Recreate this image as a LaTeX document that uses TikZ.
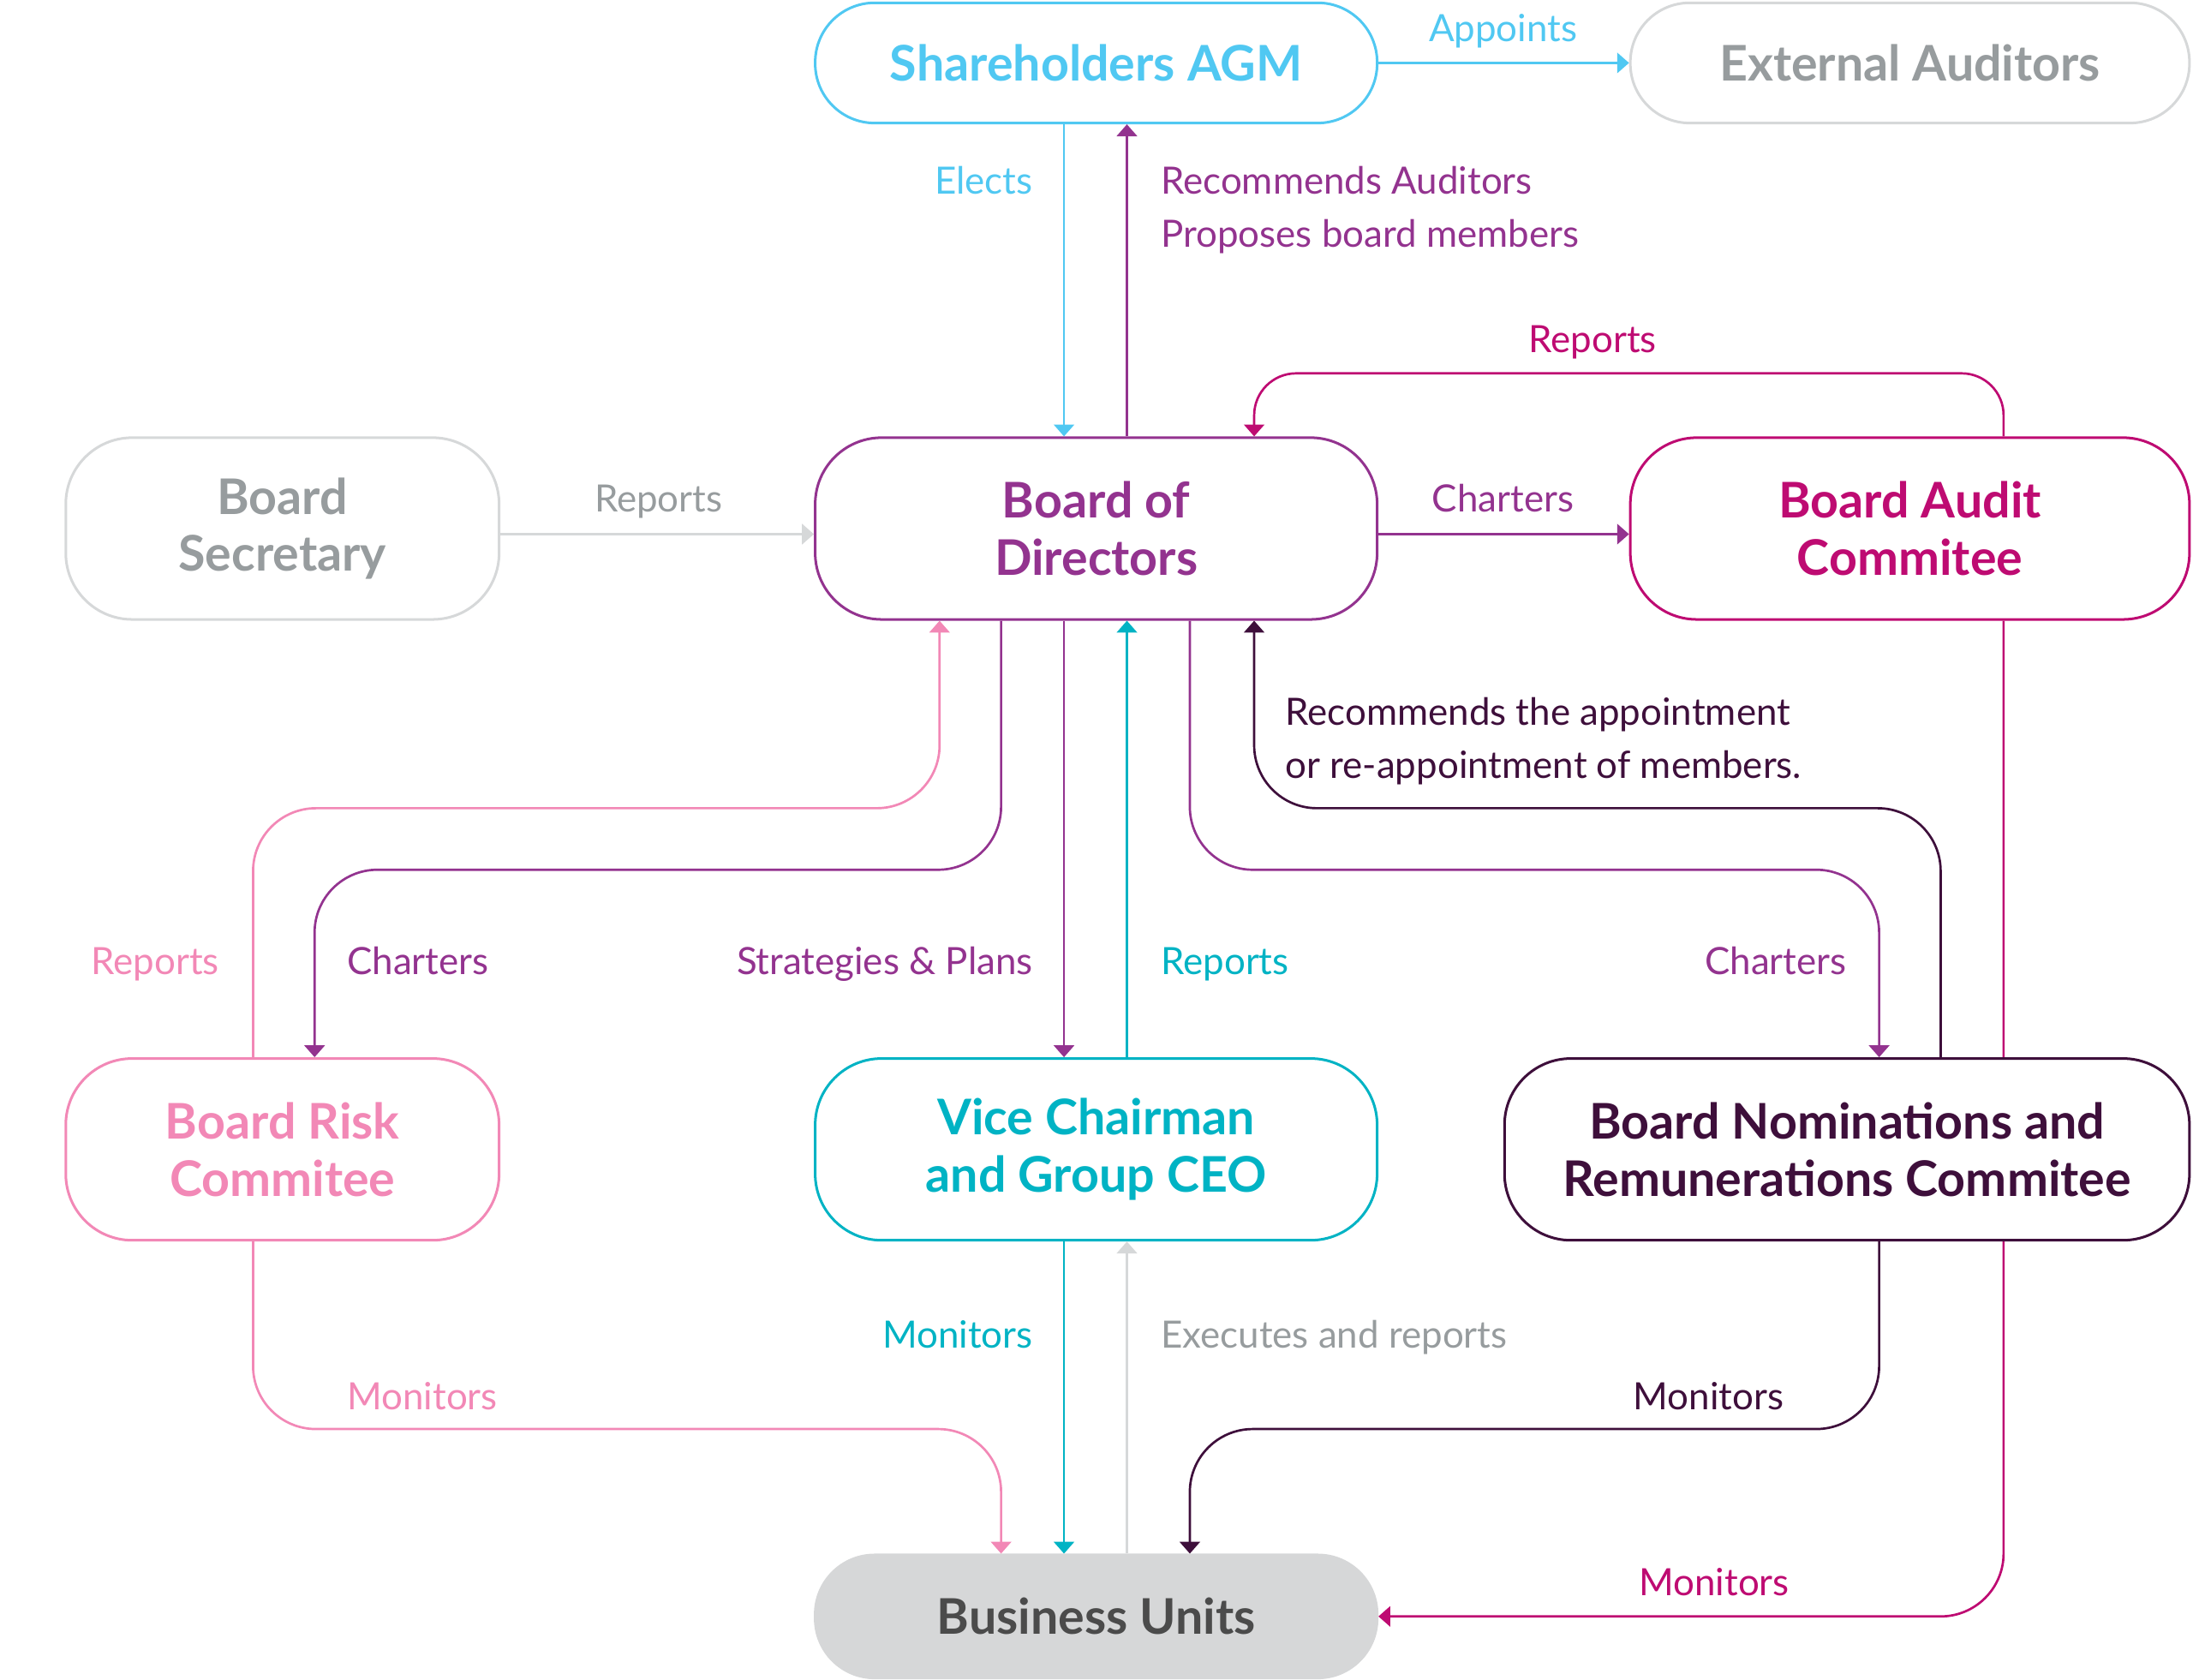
\documentclass[tikz,border=0pt]{standalone}
\usepackage{fontspec}
\setmainfont{Lato}
\usetikzlibrary{arrows.meta,backgrounds}

\definecolor{agmblue}{HTML}{50C8F2}
\definecolor{lightgrey}{HTML}{D6D8D9}
\definecolor{midgrey}{HTML}{979C9E}
\definecolor{boardpurple}{HTML}{93338F}
\definecolor{auditmagenta}{HTML}{BE0B72}
\definecolor{riskpink}{HTML}{F288B6}
\definecolor{ceoteal}{HTML}{00B3C4}
\definecolor{nomplum}{HTML}{3E0F3B}
\definecolor{unitfill}{HTML}{D6D7D8}
\definecolor{unittext}{HTML}{4B4B4B}

\tikzset{
  box/.style={draw, line width=1.05pt, rounded corners=0.95cm, fill=white, align=center,
    inner sep=0pt, minimum height=2.6cm, font=\bfseries\fontsize{20}{23.3}\selectfont},
  pill/.style={box, rounded corners=0.85cm, minimum height=1.72cm},
  lbl/.style={inner sep=0pt, align=left, font=\fontsize{15.3}{21.6}\selectfont},
  link/.style={line width=0.94pt, rounded corners=0.9cm, -{Triangle[length=0.17cm, width=0.29cm]}},
}

\begin{document}
\begin{tikzpicture}[x=0.02cm, y=-0.02cm]
\useasboundingbox (0,0) rectangle (1568.5,1201);

\node[pill, draw=agmblue, text=agmblue, minimum width=8.04cm] (agm) at (784,45) {Shareholders AGM};
\node[pill, draw=lightgrey, text=midgrey, minimum width=8cm] (extaud) at (1366,45) {External Auditors};
\node[box, draw=lightgrey, text=midgrey, minimum width=6.2cm] (secr) at (202,378) {Board\\Secretary};
\node[box, draw=boardpurple, text=boardpurple, minimum width=8.04cm] (board) at (784,378) {Board of\\Directors};
\node[box, draw=auditmagenta, text=auditmagenta, minimum width=8cm] (audit) at (1366,378) {Board Audit\\Commitee};
\node[box, draw=riskpink, text=riskpink, minimum width=6.2cm] (risk) at (202,822) {Board Risk\\Commitee};
\node[box, draw=ceoteal, text=ceoteal, minimum width=8.04cm] (vice) at (784,822) {Vice Chairman\\and Group CEO};
\node[box, draw=nomplum, text=nomplum, minimum width=9.8cm] (nomin) at (1321,822) {Board Nominations and\\Remunerations Commitee};
\node[pill, draw=unitfill, fill=unitfill, text=unittext, minimum width=8.04cm, minimum height=1.76cm] (units) at (784,1156) {Business Units};

\draw[link, agmblue] (761,0 |- agm.south) -- (761,0 |- board.north);
\draw[link, boardpurple] (806,0 |- board.north) -- (806,0 |- agm.south);
\draw[link, agmblue] (agm.east) -- (extaud.west);
\draw[link, lightgrey] ([yshift=-0.08cm]secr.east) -- ([yshift=-0.08cm]board.west);
\draw[link, boardpurple] ([yshift=-0.08cm]board.east) -- ([yshift=-0.08cm]audit.west);
\draw[link, auditmagenta, rounded corners=0.6cm] (1433,0 |- audit.north) -- (1433,267) -- (897,267) -- (897,0 |- board.north);
\draw[link, riskpink] (181,0 |- risk.north) -- (181,578) -- (672,578) -- (672,0 |- board.south);
\draw[link, boardpurple] (716,0 |- board.south) -- (716,622) -- (225,622) -- (225,0 |- risk.north);
\draw[link, boardpurple] (761,0 |- board.south) -- (761,0 |- vice.north);
\draw[link, ceoteal] (806,0 |- vice.north) -- (806,0 |- board.south);
\draw[link, boardpurple] (851,0 |- board.south) -- (851,622) -- (1344,622) -- (1344,0 |- nomin.north);
\draw[link, nomplum] (1388,0 |- nomin.north) -- (1388,578) -- (897,578) -- (897,0 |- board.south);
\begin{scope}[on background layer]
\draw[link, auditmagenta] (1433,0 |- audit.south) -- (1433,1156) -- (units.east);
\end{scope}
\draw[link, riskpink] (181,0 |- risk.south) -- (181,1022) -- (716,1022) -- (716,0 |- units.north);
\draw[link, ceoteal] (761,0 |- vice.south) -- (761,0 |- units.north);
\draw[link, lightgrey] (806,0 |- units.north) -- (806,0 |- vice.south);
\draw[link, nomplum] (1344,0 |- nomin.south) -- (1344,1022) -- (851,1022) -- (851,0 |- units.north);

\node[lbl, anchor=base, text=agmblue] (appoints) at (1075,30) {Appoints};
\node[lbl, anchor=base east, text=agmblue] (elects) at (739,139) {Elects};
\node[lbl, anchor=west, text=boardpurple] (recommend) at (830,150) {Recommends Auditors\\Proposes board members};
\node[lbl, anchor=base, text=auditmagenta] (auditreports) at (1139,252) {Reports};
\node[lbl, anchor=base, text=midgrey] (secrreports) at (471,366) {Reports};
\node[lbl, anchor=base, text=boardpurple] (auditcharters) at (1075,366) {Charters};
\node[lbl, anchor=west, text=nomplum] (appointment) at (919,530) {Recommends the appointment\\or re-appointment of members.};
\node[lbl, anchor=base east, text=riskpink] (riskreports) at (157,697) {Reports};
\node[lbl, anchor=base west, text=boardpurple] (riskcharters) at (248,697) {Charters};
\node[lbl, anchor=base east, text=boardpurple] (strategies) at (739,697) {Strategies \& Plans};
\node[lbl, anchor=base west, text=ceoteal] (ceoreports) at (830,697) {Reports};
\node[lbl, anchor=base east, text=boardpurple] (nomcharters) at (1321,697) {Charters};
\node[lbl, anchor=base east, text=ceoteal] (ceomonitors) at (739,964) {Monitors};
\node[lbl, anchor=base west, text=midgrey] (executes) at (830,964) {Executes and reports};
\node[lbl, anchor=base west, text=riskpink] (riskmonitors) at (248,1008) {Monitors};
\node[lbl, anchor=base east, text=nomplum] (nommonitors) at (1276,1008) {Monitors};
\node[lbl, anchor=base, text=auditmagenta] (auditmonitors) at (1226,1141) {Monitors};
\end{tikzpicture}
\end{document}
